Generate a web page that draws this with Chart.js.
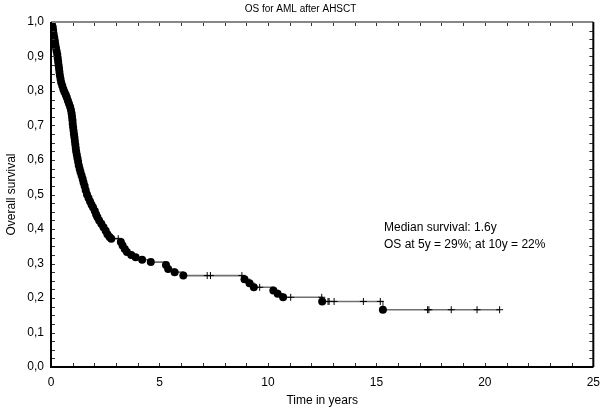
<!DOCTYPE html>
<html>
<head>
<meta charset="utf-8">
<script src="https://cdn.jsdelivr.net/npm/chart.js@4.4.1/dist/chart.umd.min.js"></script>
<style>
html, body { margin: 0; padding: 0; background: #fff; }
#wrap { width: 608px; height: 412px; }
</style>
</head>
<body>
<div id="wrap"><canvas id="osChart"></canvas></div>
<script>
// deaths: time in years and survival just after the event
const eventTimes = [0.02, 0.05, 0.08, 0.10, 0.12, 0.15, 0.18, 0.20, 0.23, 0.26, 0.29, 0.31, 0.33, 0.35, 0.37, 0.39, 0.41, 0.44, 0.47, 0.52,
    0.57, 0.62, 0.68, 0.73, 0.78, 0.83, 0.88, 0.92, 0.95, 0.97, 0.99, 1.00, 1.02, 1.04, 1.06, 1.08, 1.10, 1.12, 1.14, 1.16,
    1.19, 1.22, 1.25, 1.28, 1.32, 1.36, 1.41, 1.46, 1.50, 1.55, 1.60, 1.66, 1.73, 1.80, 1.87, 1.94, 2.02, 2.08, 2.14, 2.22,
    2.32, 2.42, 2.52, 2.60, 2.70, 2.78, 3.22, 3.30, 3.40, 3.50, 3.70, 3.90, 4.20, 4.60, 5.30, 5.40, 5.70, 6.10,
    8.92, 9.15, 9.35, 10.25, 10.45, 10.70, 12.50, 15.30];
const eventSurvival = [0.995, 0.99, 0.985, 0.975, 0.965, 0.955, 0.945, 0.935, 0.925, 0.915, 0.905, 0.895, 0.885, 0.875, 0.865, 0.855, 0.845, 0.835, 0.825, 0.815,
    0.805, 0.797, 0.789, 0.781, 0.772, 0.763, 0.754, 0.745, 0.735, 0.725, 0.715, 0.705, 0.695, 0.685, 0.675, 0.665, 0.655, 0.645, 0.635, 0.625,
    0.615, 0.605, 0.595, 0.585, 0.575, 0.565, 0.555, 0.545, 0.535, 0.525, 0.512, 0.500, 0.490, 0.480, 0.470, 0.462, 0.452, 0.442, 0.434, 0.425,
    0.415, 0.405, 0.395, 0.385, 0.377, 0.372, 0.362, 0.352, 0.342, 0.333, 0.325, 0.318, 0.311, 0.304, 0.296, 0.284, 0.275, 0.265,
    0.254, 0.243, 0.231, 0.222, 0.212, 0.202, 0.190, 0.166];

// censored cases
const censorTimes = [3.10, 7.20, 7.35, 8.80, 9.62, 11.05, 12.48, 12.77, 12.82, 13.05, 14.40, 15.18, 17.36, 17.42, 18.45, 19.64, 20.68];
const censorSurvival = [0.372, 0.265, 0.265, 0.265, 0.231, 0.202, 0.202, 0.190, 0.190, 0.190, 0.190, 0.190, 0.166, 0.166, 0.166, 0.166, 0.166];

const xMax = 25;
const xStep = 5;
const yMax = 1;
const yStep = 0.1;

const chartTitle = 'OS for AML after AHSCT';
const xTitle = 'Time in years';
const yTitle = 'Overall survival';
const noteLines = ['Median survival: 1.6y', 'OS at 5y = 29%; at 10y = 22%'];

const fontFamily = "'Liberation Sans', Arial, sans-serif";

const events = eventTimes.map((t, i) => ({ x: t, y: eventSurvival[i] }));
const censored = censorTimes.map((t, i) => ({ x: t, y: censorSurvival[i] }));
const curve = [{ x: 0, y: 1 }].concat(events, censored).sort((a, b) => a.x - b.x);

const frameTicks = {
    id: 'frameTicks',
    afterDraw(chart) {
        const { ctx, chartArea: a, scales: { x, y } } = chart;
        ctx.save();
        // inward tick marks on all four sides
        ctx.strokeStyle = '#333';
        ctx.lineWidth = 1;
        ctx.beginPath();
        for (let v = 0; v <= xMax; v++) {
            const px = Math.round(x.getPixelForValue(v)) + 0.5;
            ctx.moveTo(px, a.bottom); ctx.lineTo(px, a.bottom - 4);
            ctx.moveTo(px, a.top); ctx.lineTo(px, a.top + 4);
        }
        for (let i = 0; i <= 40; i++) {
            const py = Math.round(y.getPixelForValue(i * 0.025)) + 0.5;
            ctx.moveTo(a.left, py); ctx.lineTo(a.left + 4, py);
            ctx.moveTo(a.right, py); ctx.lineTo(a.right - 4, py);
        }
        ctx.stroke();

        ctx.lineWidth = 2;
        ctx.strokeStyle = '#888';
        ctx.beginPath();
        ctx.moveTo(a.left, a.top); ctx.lineTo(a.right, a.top);
        ctx.stroke();
        ctx.strokeStyle = '#000';
        ctx.beginPath();
        ctx.moveTo(a.right, a.top); ctx.lineTo(a.right, a.bottom);
        ctx.moveTo(a.left, a.top); ctx.lineTo(a.left, a.bottom); ctx.lineTo(a.right, a.bottom);
        ctx.stroke();

        // note text
        ctx.fillStyle = '#000';
        ctx.font = '12px ' + fontFamily;
        ctx.textBaseline = 'middle';
        ctx.fillText(noteLines[0], x.getPixelForValue(15.35), y.getPixelForValue(0.405));
        ctx.fillText(noteLines[1], x.getPixelForValue(15.35), y.getPixelForValue(0.355));
        ctx.restore();
    }
};

Chart.defaults.font.family = fontFamily;
Chart.defaults.color = '#000';

new Chart(document.getElementById('osChart'), {
    type: 'line',
    data: {
        datasets: [
            {
                label: 'deaths',
                data: events,
                showLine: false,
                pointStyle: 'circle',
                pointRadius: 4,
                pointBackgroundColor: '#000',
                pointBorderColor: '#000',
                pointBorderWidth: 0,
                order: 1,
            },
            {
                label: 'censored',
                data: censored,
                showLine: false,
                pointStyle: 'cross',
                pointRadius: 3.5,
                pointBorderColor: '#000',
                pointBorderWidth: 1,
                order: 2,
            },
            {
                label: 'curve',
                data: curve,
                stepped: true,
                borderColor: '#707070',
                borderWidth: 1.6,
                pointRadius: 0,
                fill: false,
                order: 3,
            },
        ]
    },
    options: {
        responsive: true,
        maintainAspectRatio: false,
        animation: false,
        layout: { padding: { left: 0, right: 7, top: 0, bottom: 0 } },
        plugins: {
            legend: { display: false },
            tooltip: { enabled: false },
            title: {
                display: true,
                text: chartTitle,
                font: { size: 10, weight: 'normal' },
                padding: { top: 3, bottom: 7 },
            },
        },
        scales: {
            x: {
                type: 'linear',
                min: 0,
                max: xMax,
                grid: { display: false, drawTicks: false },
                border: { display: false },
                ticks: { stepSize: xStep, padding: 8, font: { size: 12 }, maxRotation: 0 },
                title: { display: true, text: xTitle, font: { size: 12 }, padding: { top: 4, bottom: 4 } },
                afterFit: (scale) => { scale.height = 45; },
            },
            y: {
                min: 0,
                max: yMax,
                grid: { display: false, drawTicks: false },
                border: { display: false },
                ticks: { stepSize: yStep, padding: 7, font: { size: 12 }, callback: (v) => v.toFixed(1).replace('.', ',') },
                title: { display: true, text: yTitle, font: { size: 12 }, padding: { top: 4, bottom: 4 } },
                afterFit: (scale) => { scale.width = 51; },
            }
        }
    },
    plugins: [frameTicks]
});
</script>
</body>
</html>
